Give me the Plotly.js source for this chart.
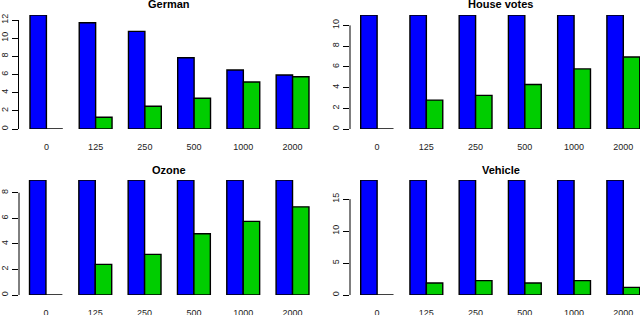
<!DOCTYPE html>
<html>
<head>
<meta charset="utf-8">
<script src="https://cdn.plot.ly/plotly-3.0.1.min.js"></script>
<style>
html,body{margin:0;padding:0;background:#fff;}
#chart{width:640px;height:315px;}
</style>
</head>
<body>
<div id="chart"></div>
<script>
// Categories (x tick labels)
var categories = ["0", "125", "250", "500", "1000", "2000"];

// Panel titles
var titles = ["German", "House votes", "Ozone", "Vehicle"];

// Blue series values per panel
var germanBlue  = [12.55, 11.7, 10.75, 7.85, 6.5, 5.95];
var houseBlue   = [11, 11, 11, 11, 11, 11];
var ozoneBlue   = [9, 9, 9, 9, 9, 9];
var vehicleBlue = [18, 18, 18, 18, 18, 18];

// Green series values per panel
var germanGreen  = [0, 1.29, 2.5, 3.38, 5.18, 5.76];
var houseGreen   = [0, 2.79, 3.24, 4.3, 5.8, 6.95];
var ozoneGreen   = [0, 2.4, 3.18, 4.79, 5.76, 6.9];
var vehicleGreen = [0, 1.88, 2.25, 1.88, 2.25, 1.2];

// Y tick steps per panel
var yTickStep = [2, 2, 2, 5];
var yTickMax  = [12, 10, 8, 15];

var blues  = [germanBlue, houseBlue, ozoneBlue, vehicleBlue];
var greens = [germanGreen, houseGreen, ozoneGreen, vehicleGreen];

var W = 640, H = 315;
// panel geometry in pixels: [left, right, baseline, top]
var geom = [
  {l: 18.5, r: 320, base: 129, top: 15, x0: -0.5669, x1: 5.557},
  {l: 350, r: 640, base: 129, top: 15, x0: -0.5506, x1: 5.339},
  {l: 19, r: 320, base: 295, top: 180, x0: -0.5466, x1: 5.557},
  {l: 350, r: 640, base: 295, top: 180, x0: -0.5506, x1: 5.339}
];
var titleY = [4.5, 4.5, 170, 170];
var titleX = [169, 500.5, 169, 500.5];

var font = {family: "Liberation Sans, Arial, sans-serif", size: 9, color: "#222"};
var traces = [];
var layout = {
  width: W, height: H,
  margin: {l: 0, r: 0, t: 0, b: 0},
  paper_bgcolor: "#fff", plot_bgcolor: "rgba(0,0,0,0)",
  showlegend: false,
  barmode: "group", bargap: 1/3, bargroupgap: 0,
  font: font,
  annotations: [],
  shapes: []
};

for (var i = 0; i < 4; i++) {
  var sfx = i === 0 ? "" : String(i + 1);
  var xa = "x" + sfx, ya = "y" + sfx;
  var g = geom[i];
  var ymax = Math.max.apply(null, blues[i]);
  traces.push({
    type: "bar", x: categories, y: blues[i], xaxis: xa, yaxis: ya,
    marker: {color: "#0000FF", line: {color: "#000", width: 1.4}},
    hoverinfo: "none"
  });
  traces.push({
    type: "bar", x: categories, y: greens[i], xaxis: xa, yaxis: ya,
    marker: {color: "#00CD00", line: {color: "#000", width: 1.4}},
    hoverinfo: "none"
  });
  layout["xaxis" + sfx] = {
    domain: [g.l / W, g.r / W],
    anchor: ya,
    type: "category",
    range: [g.x0, g.x1],
    showgrid: false, zeroline: false, showline: false,
    ticks: "outside", ticklen: 9, tickcolor: "rgba(0,0,0,0)",
    tickfont: font,
    fixedrange: true
  };
  layout["yaxis" + sfx] = {
    domain: [1 - g.base / H, 1 - g.top / H],
    anchor: xa,
    range: [0, ymax],
    tick0: 0, dtick: yTickStep[i],
    showgrid: false, zeroline: false, showline: false,
    ticks: "outside", ticklen: 6, tickwidth: 1, tickcolor: "#000",
    tickangle: -90,
    tickfont: font,
    fixedrange: true
  };
  // R-style axis line spanning from first to last tick
  layout.shapes.push({
    type: "line", xref: xa + " domain", yref: ya,
    x0: 0, x1: 0, y0: 0, y1: yTickMax[i],
    line: {color: "#000", width: 1}
  });
  layout.annotations.push({
    text: "<b>" + titles[i] + "</b>",
    xref: "paper", yref: "paper",
    x: titleX[i] / W, y: 1 - titleY[i] / H,
    xanchor: "center", yanchor: "middle",
    showarrow: false,
    font: {family: "Liberation Sans, Arial, sans-serif", size: 11, color: "#000"}
  });
}

Plotly.newPlot("chart", traces, layout, {staticPlot: true, displayModeBar: false});
</script>
</body>
</html>
